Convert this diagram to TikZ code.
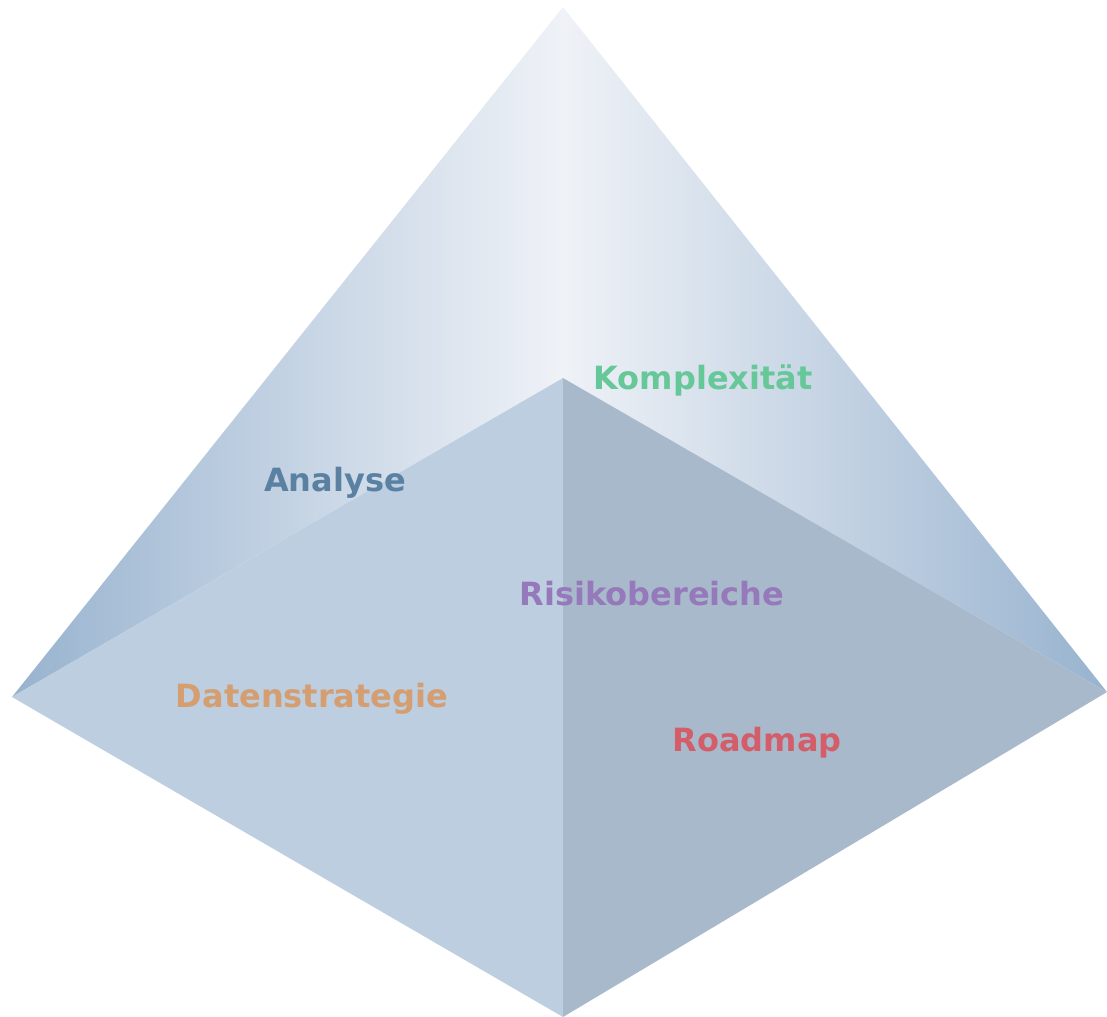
\documentclass[tikz,border=0pt]{standalone}
\usepackage{fontspec}
\setmainfont{DejaVu Sans}
\usetikzlibrary{calc}

\definecolor{edgeblue}{HTML}{98B3CF}
\definecolor{lightblue}{HTML}{EFF2F7}
\definecolor{frontleft}{HTML}{BCCEDF}
\definecolor{frontright}{HTML}{A9B9CC}
\definecolor{txtgreen}{HTML}{66C799}
\definecolor{txtblue}{HTML}{5A80A2}
\definecolor{txtpurple}{HTML}{9579BA}
\definecolor{txtorange}{HTML}{D49E71}
\definecolor{txtred}{HTML}{D35E6A}

\tikzset{
	lbl/.style={font=\fontsize{24}{28}\selectfont\bfseries, inner sep=0pt}
}

\begin{document}
\begin{tikzpicture}[x=0.75pt, y=-0.75pt]
		\useasboundingbox (0,0) rectangle (1107,1017);
		\coordinate (top) at (563,7);
		\coordinate (left) at (12,697);
		\coordinate (right) at (1107,692);
		\coordinate (mid) at (563,378);
		\coordinate (bottom) at (563,1017);

		% back faces
		\shade[left color=edgeblue, right color=lightblue] (top) -- (left) -- (mid) -- cycle;
		\shade[left color=lightblue, right color=edgeblue] (top) -- (right) -- (mid) -- cycle;
		% front faces
		\fill[frontleft] (mid) -- (left) -- (bottom) -- cycle;
		\fill[frontright] (mid) -- (right) -- (bottom) -- cycle;

		\node[lbl, text=txtgreen] (komplex) at (703,380) {Komplexität};
		\node[lbl, text=txtblue] (analyse) at (335,483) {Analyse};
		\node[lbl, text=txtpurple] (risiko) at (652,594) {Risikobereiche};
		\node[lbl, text=txtorange] (daten) at (312,699) {Datenstrategie};
		\node[lbl, text=txtred] (roadmap) at (757,743) {Roadmap};
	\end{tikzpicture}
\end{document}
